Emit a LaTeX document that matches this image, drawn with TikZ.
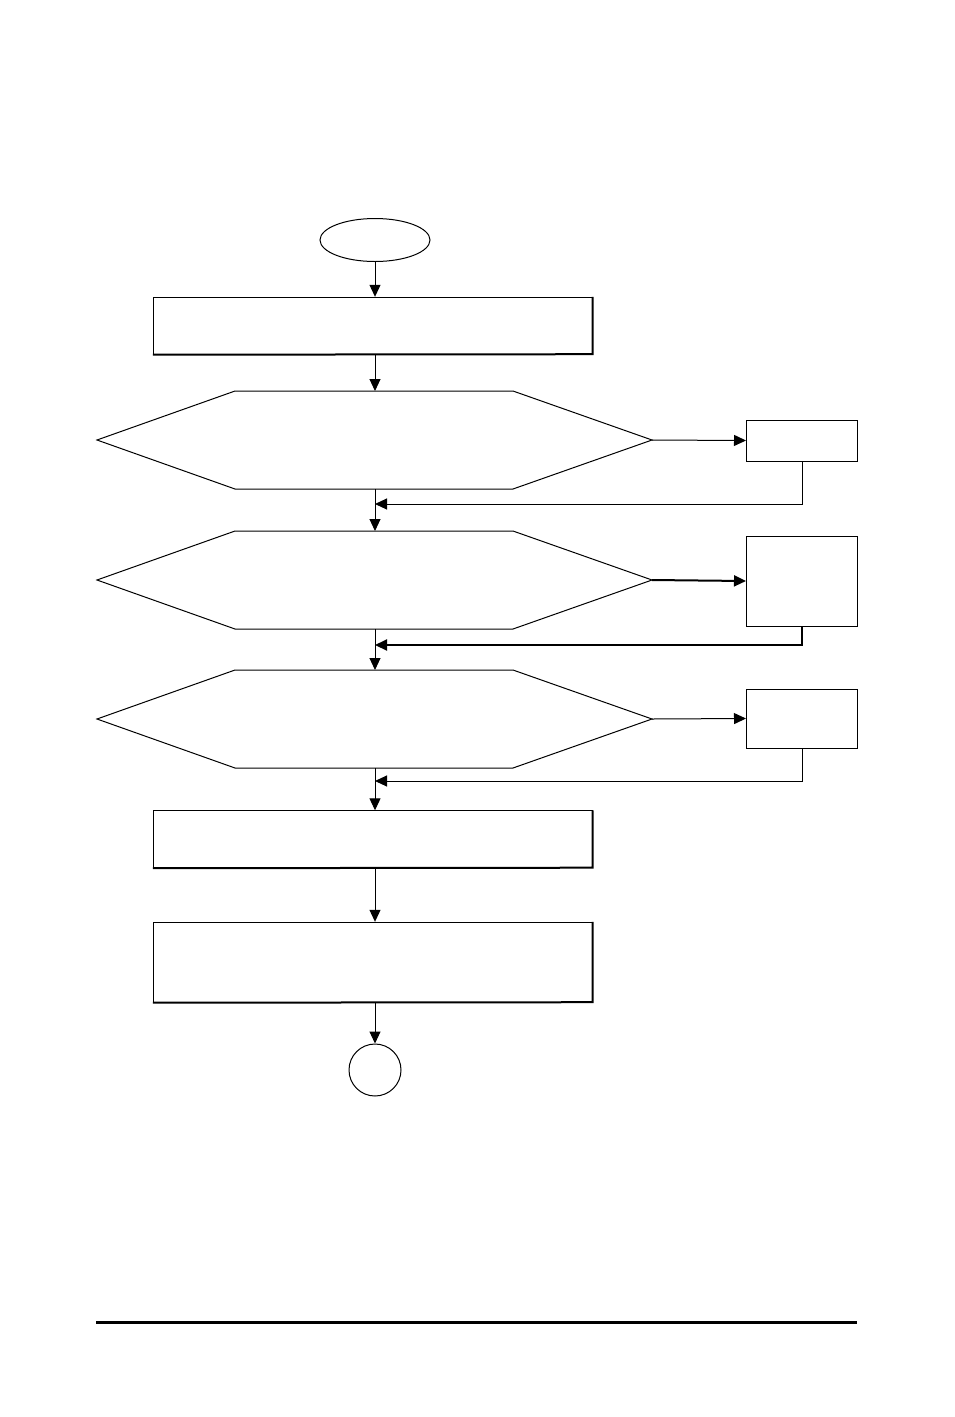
\documentclass[tikz,border=0pt]{standalone}
\usetikzlibrary{arrows.meta,shapes.geometric}
\begin{document}
\begin{tikzpicture}[x=1pt,y=-1pt,
  line width=1pt,
  arr/.style={-{Triangle[length=12pt,width=11pt]}},
  procbox/.style={draw,thin,rectangle,inner sep=0pt,minimum width=439pt,minimum height=57pt},
  sidebox/.style={draw,rectangle,inner sep=0pt,line width=1pt,minimum width=111pt},
]
\useasboundingbox (0,0) rectangle (954,1417);
% start
\node[draw,ellipse,minimum width=110pt,minimum height=43pt,inner sep=0pt] (start) at (375,240) {};
% box 1
\node[procbox] (b1) at (372.5,325.5) {};
\draw[line width=2pt] ([xshift=0.5pt]b1.north east) -- ([xshift=0.5pt]b1.south east) -- ([yshift=-0.5pt]b1.south west);
% hexagons
\foreach \n/\y in {h1/440,h2/580,h3/719}{
  \draw (97,\y) -- (235,\y-49) -- (513,\y-49) -- (652,\y) -- (513,\y+49) -- (235,\y+49) -- cycle;
  \coordinate (\n n) at (375,\y-49);
  \coordinate (\n s) at (375,\y+49);
  \coordinate (\n e) at (652,\y);
}
% side boxes
\node[sidebox,minimum height=41pt] (r1) at (802,440.5) {};
\node[sidebox,minimum height=90pt] (r2) at (802,581) {};
\node[sidebox,minimum height=59pt] (r3) at (802,718.5) {};
% junctions
\coordinate (j1) at (375,504);
\coordinate (j2) at (375,645);
\coordinate (j3) at (375,781);
% box 4, 5
\node[procbox] (b4) at (372.5,839) {};
\draw[line width=2pt] ([xshift=0.5pt]b4.north east) -- ([xshift=0.5pt]b4.south east) -- ([yshift=-0.5pt]b4.south west);
\node[procbox,minimum height=80pt] (b5) at (372.5,962) {};
\draw[line width=2pt] ([xshift=0.5pt]b5.north east) -- ([xshift=0.5pt]b5.south east) -- ([yshift=-0.5pt]b5.south west);
% end circle
\node[draw,circle,minimum size=52pt,inner sep=0pt] (end) at (375,1070) {};
% connectors
\draw[arr] (start.south) -- (start.south |- b1.north);
\draw[arr] (start.south |- b1.south) -- (h1n);
\draw[arr] (h1e) -- (r1.west);
\draw[arr] (r1.south) |- (j1);
\draw[arr] (h1s) -- (h2n);
\draw[arr,line width=2pt] (h2e) -- (r2.west);
\draw[arr,line width=2pt] (r2.south) |- (j2);
\draw[arr] (h2s) -- (h3n);
\draw[arr] (h3e) -- (r3.west);
\draw[arr] (r3.south) |- (j3);
\draw[arr] (h3s) -- (h3s |- b4.north);
\draw[arr] (h3s |- b4.south) -- (h3s |- b5.north);
\draw[arr] (h3s |- b5.south) -- (end.north);
% bottom rule
\draw[line width=3pt] (96,1322) -- (857,1322);
\end{tikzpicture}
\end{document}
